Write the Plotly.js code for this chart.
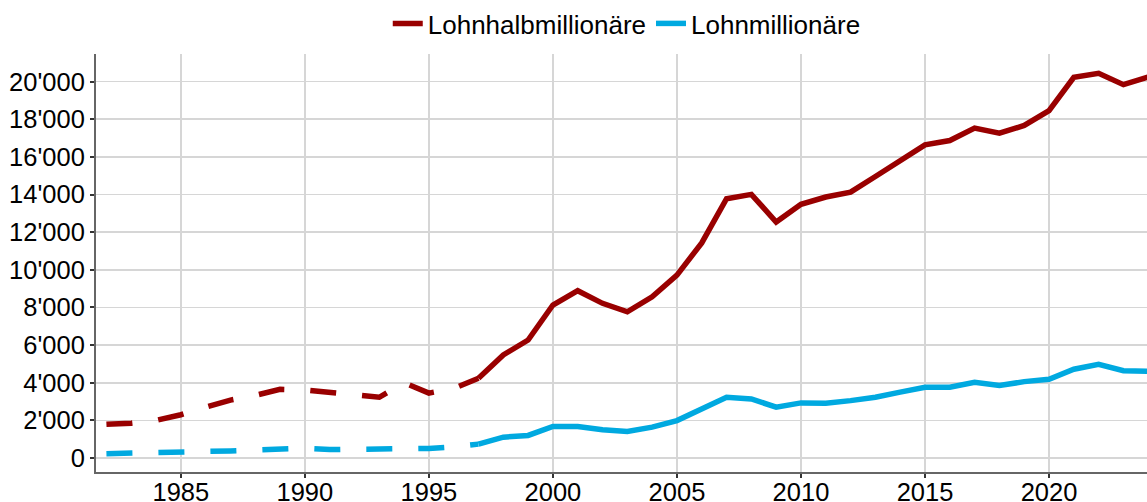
<!DOCTYPE html>
<html>
<head>
<meta charset="utf-8">
<script src="https://cdn.plot.ly/plotly-3.0.1.min.js"></script>
<style>html,body{margin:0;padding:0;background:#fff;}#chart{width:1147px;height:502px;}</style>
</head>
<body>
<div id="chart"></div>
<script>
// Early years (dashed) and later years (solid)
const yearsEarly = [1982,1983,1984,1985,1986,1987,1988,1989,1990,1991,1992,1993,1994,1995,1996,1997];
const halbEarly  = [1790,1850,2000,2300,2700,3080,3330,3650,3620,3470,3380,3230,4000,3450,3700,4240];
const millEarly  = [230,250,270,300,350,380,430,490,520,450,450,470,490,510,590,740];

const yearsLate = [1997,1998,1999,2000,2001,2002,2003,2004,2005,2006,2007,2008,2009,2010,2011,2012,2013,2014,2015,2016,2017,2018,2019,2020,2021,2022,2023,2024];
const halbLate  = [4240,5480,6270,8130,8890,8220,7770,8570,9720,11430,13780,14010,12540,13480,13870,14130,14960,15760,16640,16870,17530,17260,17670,18460,20230,20440,19840,20250];
const millLate  = [740,1110,1200,1680,1680,1500,1410,1640,1990,2600,3230,3140,2700,2930,2910,3050,3230,3500,3760,3760,4030,3850,4060,4190,4720,4980,4640,4610];

const seriesNames = ["Lohnhalbmillionäre", "Lohnmillionäre"];
const xTicks = [1985,1990,1995,2000,2005,2010,2015,2020];
const yTicks = [0,2000,4000,6000,8000,10000,12000,14000,16000,18000,20000];

const RED = "#990000", BLUE = "#00A9E0";
const dashPat = "26px,26px";

const traces = [
  {x: yearsLate, y: halbLate, name: seriesNames[0], mode: "lines", line: {color: RED, width: 5.5}, showlegend: true},
  {x: yearsLate, y: millLate, name: seriesNames[1], mode: "lines", line: {color: BLUE, width: 5.5}, showlegend: true},
  {x: yearsEarly, y: halbEarly, name: seriesNames[0], mode: "lines", line: {color: RED, width: 5.5, dash: dashPat}, showlegend: false},
  {x: yearsEarly, y: millEarly, name: seriesNames[1], mode: "lines", line: {color: BLUE, width: 5.5, dash: dashPat}, showlegend: false}
];

const font = {family: "Liberation Sans, Arial, sans-serif", size: 25.5, color: "#000"};
const legendFont = {family: "Liberation Sans, Arial, sans-serif", size: 26, color: "#000"};

const layout = {
  width: 1147, height: 502,
  margin: {l: 96, r: 0, t: 53, b: 30, pad: 0},
  paper_bgcolor: "#fff", plot_bgcolor: "#fff",
  font: font,
  separators: ".'",
  showlegend: true,
  legend: {orientation: "h", x: 0.505, xanchor: "center", y: 1.074, yanchor: "middle",
           font: legendFont, itemwidth: 30, tracegroupgap: 0, bgcolor: "rgba(0,0,0,0)"},
  xaxis: {range: [1981.58, 2023.95], tickvals: xTicks, ticktext: xTicks.map(String),
          showgrid: true, gridcolor: "#d6d6d6", gridwidth: 1.6, zeroline: false,
          showline: true, linecolor: "#666", linewidth: 2,
          ticks: "outside", ticklen: 4, tickwidth: 2, tickcolor: "#333",
          ticklabelstandoff: -8,
          tickfont: font, fixedrange: true},
  yaxis: {range: [-742, 21468], tickvals: yTicks, tickformat: ",d",
          showgrid: true, gridcolor: "#d6d6d6", gridwidth: 1.6, zeroline: false,
          showline: true, linecolor: "#666", linewidth: 2,
          ticks: "outside", ticklen: 4, tickwidth: 2, tickcolor: "#333",
          tickfont: font, fixedrange: true}
};

Plotly.newPlot("chart", traces, layout, {staticPlot: true, displayModeBar: false});
</script>
</body>
</html>
